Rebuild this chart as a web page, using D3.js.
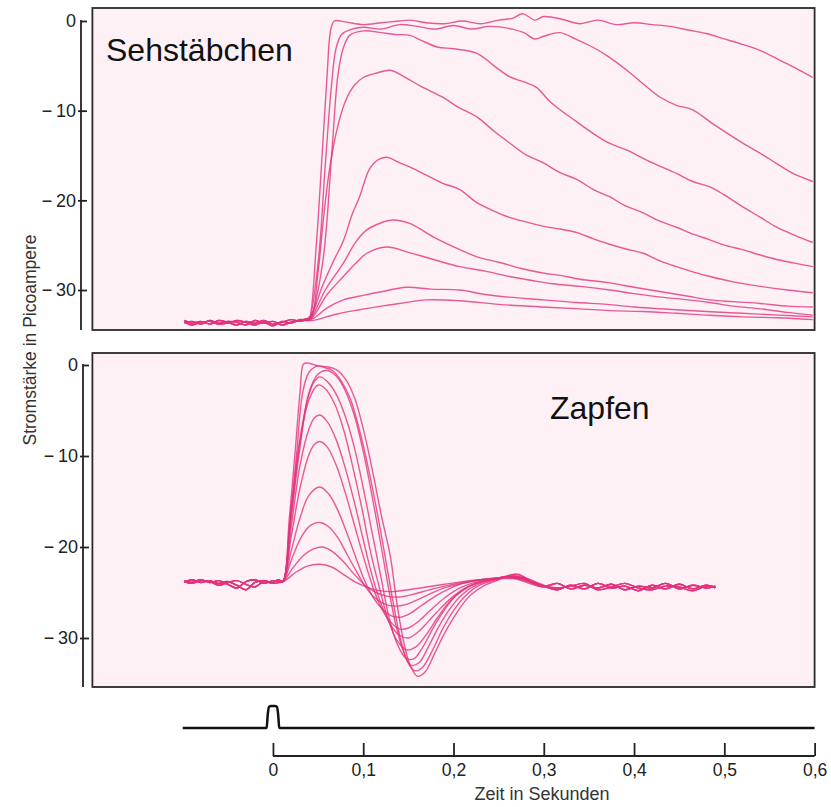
<!DOCTYPE html>
<html>
<head>
<meta charset="utf-8">
<script src="https://cdn.jsdelivr.net/npm/d3@7"></script>
<style>
  body { margin: 0; background: #fff; }
  svg { font-family: "Liberation Sans", Arial, Helvetica, sans-serif; }
</style>
</head>
<body>
<svg id="chart" width="831" height="807"></svg>
<script>
// ---- data: time in s, current in pA ----
const xTicks = [0, 0.1, 0.2, 0.3, 0.4, 0.5, 0.6];
const yTicks = [0, -10, -20, -30];

// baseline noise before the flash (rods)
const rodBaseT = [-0.098, -0.09, -0.08, -0.07, -0.06, -0.05, -0.04, -0.03, -0.02, -0.01, 0, 0.01, 0.02, 0.03, 0.038];
const rodBaseA = [-33.4, -33.7, -33.5, -33.8, -33.4, -33.6, -33.9, -33.5, -33.7, -33.4, -33.8, -33.6, -33.3, -33.5, -33.3];
const rodBaseB = [-33.7, -33.5, -33.8, -33.4, -33.7, -33.5, -33.6, -33.9, -33.4, -33.7, -33.5, -33.9, -33.6, -33.4, -33.2];
const rodBaseC = [-33.5, -33.9, -33.6, -33.5, -33.8, -33.7, -33.4, -33.6, -33.9, -33.6, -34.0, -33.5, -33.7, -33.3, -33.4];

// rod responses, brightest first
const rod1 = [[0.040,-33.3],[0.048,-25],[0.055,-14],[0.060,-6],[0.064,-1],[0.068,0],[0.08,-0.1],[0.10,-0.4],[0.12,-0.2],[0.14,0],[0.152,0.1],[0.17,-0.2],[0.19,-0.3],[0.21,0],[0.23,-0.3],[0.25,0.1],[0.265,0.3],[0.277,0.8],[0.29,0.1],[0.30,0.5],[0.32,0.2],[0.34,-0.3],[0.36,0.1],[0.38,-0.4],[0.40,-0.2],[0.42,-0.4],[0.44,-0.6],[0.46,-1.0],[0.48,-1.4],[0.50,-2.0],[0.52,-2.6],[0.54,-3.3],[0.56,-4.3],[0.58,-5.3],[0.598,-6.3]];
const rod2 = [[0.040,-33.4],[0.05,-27],[0.058,-16],[0.065,-7],[0.07,-3],[0.076,-1.5],[0.085,-1.0],[0.10,-0.7],[0.12,-0.9],[0.14,-0.4],[0.16,-0.6],[0.18,-0.9],[0.20,-0.5],[0.22,-0.9],[0.24,-0.6],[0.265,-0.9],[0.278,-1.3],[0.29,-2.0],[0.30,-1.7],[0.318,-1.3],[0.335,-2.0],[0.354,-2.9],[0.372,-4.0],[0.392,-5.5],[0.41,-7.0],[0.429,-8.5],[0.447,-9.4],[0.465,-9.9],[0.485,-11.3],[0.503,-12.5],[0.52,-13.6],[0.539,-14.7],[0.558,-15.9],[0.576,-17.0],[0.598,-17.9]];
const rod3 = [[0.042,-33],[0.055,-27],[0.065,-15],[0.072,-6],[0.078,-3],[0.085,-1.6],[0.10,-1.1],[0.12,-1.3],[0.135,-1.5],[0.152,-1.6],[0.165,-2.2],[0.182,-2.9],[0.20,-3.1],[0.226,-3.6],[0.245,-5.0],[0.262,-6.2],[0.278,-6.8],[0.292,-7.4],[0.305,-8.8],[0.318,-9.9],[0.336,-11.2],[0.354,-12.5],[0.372,-13.6],[0.392,-14.4],[0.42,-15.8],[0.447,-17.0],[0.465,-17.9],[0.484,-18.5],[0.50,-19.4],[0.52,-20.7],[0.54,-21.9],[0.558,-23.0],[0.578,-23.9],[0.598,-24.7]];
const rod4 = [[0.042,-33.3],[0.05,-28],[0.056,-22],[0.062,-17],[0.07,-12.5],[0.08,-9],[0.09,-7.2],[0.10,-6.3],[0.115,-5.8],[0.13,-5.5],[0.145,-6.2],[0.164,-7.3],[0.188,-8.5],[0.205,-9.6],[0.226,-10.7],[0.245,-12.3],[0.262,-13.6],[0.28,-14.9],[0.299,-15.8],[0.318,-16.9],[0.337,-17.7],[0.355,-18.8],[0.373,-19.6],[0.39,-20.6],[0.41,-21.4],[0.428,-22.3],[0.447,-23.0],[0.466,-23.8],[0.484,-24.4],[0.50,-25.0],[0.52,-25.5],[0.54,-26.1],[0.558,-26.6],[0.578,-27.0],[0.598,-27.4]];
const rod5 = [[0.044,-32.5],[0.055,-29.5],[0.066,-27],[0.078,-24.5],[0.088,-21.5],[0.096,-19.6],[0.107,-16.5],[0.116,-15.5],[0.126,-15.2],[0.14,-15.8],[0.152,-16.3],[0.17,-17.2],[0.188,-18.1],[0.207,-18.8],[0.225,-20.2],[0.245,-21.2],[0.262,-21.9],[0.28,-22.4],[0.30,-22.9],[0.318,-23.2],[0.337,-23.6],[0.355,-24.3],[0.373,-24.9],[0.39,-25.4],[0.41,-25.9],[0.43,-26.8],[0.447,-27.4],[0.466,-28.0],[0.484,-28.5],[0.51,-29.1],[0.54,-29.6],[0.57,-30.0],[0.598,-30.3]];
const rod6 = [[0.044,-32.8],[0.058,-30],[0.078,-27],[0.092,-24.6],[0.104,-23.3],[0.12,-22.5],[0.133,-22.2],[0.152,-22.6],[0.178,-24.1],[0.207,-25.5],[0.226,-26.3],[0.25,-26.9],[0.275,-27.6],[0.299,-28.1],[0.32,-28.4],[0.34,-28.8],[0.373,-29.2],[0.40,-29.7],[0.43,-30.2],[0.46,-30.7],[0.484,-31.1],[0.51,-31.3],[0.54,-31.5],[0.57,-31.8],[0.598,-31.9]];
const rod7 = [[0.044,-33],[0.06,-30.5],[0.078,-28.5],[0.092,-27],[0.104,-25.9],[0.126,-25.2],[0.15,-25.8],[0.178,-26.6],[0.207,-27.4],[0.235,-27.9],[0.262,-28.5],[0.29,-29.0],[0.31,-29.3],[0.34,-29.6],[0.373,-30.0],[0.40,-30.4],[0.43,-30.8],[0.46,-31.1],[0.484,-31.4],[0.51,-31.8],[0.54,-32.1],[0.57,-32.5],[0.598,-32.8]];
const rod8 = [[0.044,-33.2],[0.06,-32],[0.078,-31.1],[0.10,-30.6],[0.12,-30.2],[0.148,-29.7],[0.175,-29.9],[0.207,-30.0],[0.235,-30.5],[0.262,-30.8],[0.30,-31.1],[0.337,-31.4],[0.37,-31.6],[0.40,-31.9],[0.447,-32.2],[0.48,-32.4],[0.52,-32.6],[0.56,-32.8],[0.598,-33.0]];
const rod9 = [[0.044,-33.4],[0.07,-32.7],[0.096,-32.2],[0.12,-31.8],[0.14,-31.5],[0.17,-31.1],[0.207,-31.2],[0.25,-31.6],[0.299,-31.9],[0.34,-32.1],[0.373,-32.3],[0.41,-32.4],[0.447,-32.6],[0.48,-32.8],[0.52,-33.0],[0.56,-33.1],[0.598,-33.3]];
const rodTraces = [rod1, rod2, rod3, rod4, rod5, rod6, rod7, rod8, rod9];

// cone baseline before the flash and tail after the response
const coneBaseT = [-0.098, -0.09, -0.08, -0.07, -0.06, -0.05, -0.04, -0.03, -0.02, -0.01, 0, 0.006];
const coneBaseA = [-23.7, -23.9, -23.6, -23.9, -23.7, -24.1, -24.5, -23.8, -23.6, -24.0, -23.7, -23.8];
const coneBaseB = [-23.9, -23.6, -23.9, -23.7, -24.0, -23.8, -24.2, -24.7, -23.9, -23.7, -23.9, -23.6];
const coneBaseC = [-23.8, -24.0, -23.7, -23.8, -24.2, -23.9, -23.7, -24.1, -24.4, -23.8, -24.0, -23.9];
const coneTailT = [0.315, 0.33, 0.345, 0.36, 0.375, 0.39, 0.405, 0.42, 0.435, 0.45, 0.465, 0.48, 0.49];
const coneTailA = [-24.0, -24.6, -24.2, -24.5, -24.1, -24.7, -24.3, -24.5, -24.0, -24.6, -24.2, -24.5, -24.3];
const coneTailB = [-24.7, -24.2, -24.6, -24.0, -24.5, -24.3, -24.8, -24.2, -24.6, -24.1, -24.6, -24.2, -24.5];
const coneTailC = [-24.5, -24.3, -24.0, -24.7, -24.4, -24.0, -24.5, -24.7, -24.3, -24.4, -24.8, -24.3, -24.4];

// cone responses, brightest first
const cone1 = [[0.011,-23.8],[0.018,-17],[0.025,-9],[0.03,-3],[0.034,0.1],[0.04,0.2],[0.05,-0.1],[0.06,-0.2],[0.07,-0.5],[0.08,-1.5],[0.09,-3.5],[0.10,-7],[0.11,-11.5],[0.12,-16.5],[0.13,-21],[0.137,-26],[0.145,-30.5],[0.152,-33],[0.16,-34.2],[0.168,-33.8],[0.18,-31.5],[0.19,-29.5],[0.20,-27.8],[0.21,-26.3],[0.22,-25.2],[0.235,-24.2],[0.25,-23.6],[0.262,-23.1],[0.272,-23.0],[0.285,-23.7],[0.30,-24.3]];
const cone2 = [[0.011,-23.8],[0.018,-18],[0.026,-10],[0.033,-3],[0.04,-0.8],[0.05,-0.1],[0.058,-0.3],[0.066,-0.6],[0.076,-1.8],[0.086,-3.8],[0.096,-7.2],[0.106,-11.5],[0.116,-16.5],[0.125,-21.5],[0.133,-26],[0.141,-30],[0.149,-32.6],[0.157,-33.6],[0.165,-33.3],[0.176,-31.5],[0.188,-29],[0.20,-27],[0.212,-25.5],[0.225,-24.4],[0.24,-23.8],[0.255,-23.4],[0.268,-23.0],[0.28,-23.4],[0.30,-24.2]];
const cone3 = [[0.011,-23.8],[0.02,-17],[0.03,-9],[0.04,-3],[0.05,-1.0],[0.06,-0.6],[0.07,-1.2],[0.08,-2.8],[0.09,-5.5],[0.10,-9.5],[0.11,-14.5],[0.12,-20],[0.128,-24.5],[0.136,-28.5],[0.145,-31.6],[0.153,-33],[0.162,-32.7],[0.172,-31],[0.184,-28.7],[0.196,-26.8],[0.21,-25.2],[0.225,-24.2],[0.24,-23.7],[0.258,-23.3],[0.275,-23.5],[0.30,-24.3]];
const cone4 = [[0.011,-23.8],[0.02,-16],[0.03,-8],[0.04,-3.2],[0.046,-1.8],[0.052,-1.3],[0.06,-1.8],[0.07,-3.2],[0.08,-5.6],[0.09,-9],[0.10,-13.5],[0.11,-18.5],[0.12,-23.5],[0.128,-27.5],[0.137,-30.5],[0.147,-32.2],[0.156,-32.3],[0.166,-31],[0.178,-28.8],[0.19,-26.9],[0.204,-25.2],[0.22,-24.2],[0.235,-23.7],[0.25,-23.4],[0.27,-23.3],[0.30,-24.4]];
const cone5 = [[0.011,-23.8],[0.02,-16.5],[0.03,-8.5],[0.04,-3.8],[0.05,-2.2],[0.058,-2.6],[0.068,-4.2],[0.078,-7],[0.088,-11],[0.098,-15.5],[0.108,-20.5],[0.118,-24.5],[0.127,-27.8],[0.137,-30.2],[0.148,-31.3],[0.158,-31.0],[0.17,-29.6],[0.182,-27.8],[0.195,-26.1],[0.21,-24.8],[0.225,-24.0],[0.245,-23.5],[0.265,-23.2],[0.30,-24.3]];
const cone6 = [[0.011,-23.8],[0.02,-18],[0.03,-11],[0.04,-7],[0.046,-5.8],[0.052,-5.5],[0.06,-6.2],[0.07,-8.2],[0.08,-11.3],[0.09,-15],[0.10,-19.2],[0.11,-23.2],[0.12,-26.3],[0.13,-28.5],[0.14,-29.7],[0.15,-30.0],[0.16,-29.4],[0.172,-28.2],[0.185,-26.8],[0.20,-25.4],[0.215,-24.4],[0.232,-23.8],[0.25,-23.5],[0.27,-23.2],[0.30,-24.3]];
const cone7 = [[0.011,-23.8],[0.02,-19],[0.03,-13.5],[0.04,-9.8],[0.046,-8.7],[0.052,-8.4],[0.06,-9.0],[0.07,-11],[0.08,-14],[0.09,-17.5],[0.10,-21],[0.11,-24.2],[0.12,-26.7],[0.13,-28.2],[0.14,-29.0],[0.15,-28.9],[0.162,-28.1],[0.175,-26.9],[0.19,-25.6],[0.205,-24.6],[0.22,-24.0],[0.24,-23.6],[0.26,-23.3],[0.30,-24.4]];
const cone8 = [[0.011,-23.8],[0.02,-20.5],[0.03,-16.8],[0.04,-14.3],[0.052,-13.4],[0.062,-14.2],[0.072,-16],[0.082,-18.5],[0.092,-21.2],[0.102,-23.8],[0.112,-25.7],[0.122,-26.9],[0.132,-27.6],[0.142,-27.7],[0.152,-27.3],[0.165,-26.4],[0.18,-25.4],[0.195,-24.6],[0.21,-24.0],[0.23,-23.6],[0.25,-23.4],[0.27,-23.2],[0.30,-24.3]];
const cone9 = [[0.011,-23.8],[0.022,-21],[0.032,-18.8],[0.042,-17.6],[0.052,-17.3],[0.062,-17.8],[0.072,-19],[0.082,-20.8],[0.092,-22.6],[0.102,-24.3],[0.112,-25.5],[0.122,-26.2],[0.135,-26.5],[0.148,-26.3],[0.16,-25.8],[0.175,-25.1],[0.19,-24.5],[0.21,-24.0],[0.23,-23.6],[0.25,-23.4],[0.27,-23.3],[0.30,-24.3]];
const cone10 = [[0.011,-23.8],[0.022,-22.3],[0.034,-20.9],[0.045,-20.2],[0.055,-20.0],[0.066,-20.5],[0.078,-21.6],[0.09,-23.0],[0.102,-24.2],[0.114,-25.0],[0.126,-25.4],[0.14,-25.5],[0.155,-25.2],[0.17,-24.8],[0.19,-24.3],[0.21,-23.9],[0.23,-23.6],[0.25,-23.4],[0.27,-23.4],[0.30,-24.3]];
const cone11 = [[0.011,-23.8],[0.025,-22.8],[0.038,-22.1],[0.052,-21.9],[0.065,-22.2],[0.078,-23.0],[0.092,-23.9],[0.104,-24.4],[0.118,-24.8],[0.132,-24.9],[0.15,-24.7],[0.17,-24.4],[0.19,-24.1],[0.21,-23.8],[0.23,-23.6],[0.25,-23.5],[0.27,-23.5],[0.30,-24.3]];
const coneTraces = [cone1, cone2, cone3, cone4, cone5, cone6, cone7, cone8, cone9, cone10, cone11];

// light flash marker
const stimT = [-0.1, -0.007, -0.0058, -0.0045, -0.002, 0.002, 0.0045, 0.0058, 0.007, 0.6];
const stimV = [0, 0, 0.6, 0.96, 1, 1, 0.96, 0.6, 0, 0];

// ---- layout ----
const svg = d3.select("#chart");
const traceColor = "#e2327c";
const ink = "#222";

const x = d3.scaleLinear().domain([-0.2, 0.6]).range([92.4, 814.6]);
const yTop = d3.scaleLinear().domain([0, -30]).range([21, 290]);
const yBot = d3.scaleLinear().domain([0, -30]).range([365, 638]);
const yStim = d3.scaleLinear().domain([0, 1]).range([728, 706]);

const tickFmt = d => d === 0 ? "0" : "\u2212\u2009" + Math.abs(d);

function panel(y, top, bottom, axisX, traces, bases, tails) {
  // plot background and frame
  svg.append("rect")
    .attr("x", x(-0.2)).attr("y", top)
    .attr("width", x(0.6) - x(-0.2)).attr("height", bottom - top)
    .attr("fill", "#fdf1f6")
    .attr("stroke", "#2a2a2a").attr("stroke-width", 1.8);

  const line = d3.line()
    .x(d => x(d[0])).y(d => y(d[1]))
    .curve(d3.curveCatmullRom.alpha(0.5));

  traces.forEach((tr, i) => {
    const b = bases[i % bases.length];
    let pts = b.t.map((t, j) => [t, b.v[j]]).concat(tr);
    if (tails) {
      const tl = tails[i % tails.length];
      pts = pts.concat(tl.t.map((t, j) => [t, tl.v[j]]));
    }
    svg.append("path")
      .attr("d", line(pts))
      .attr("fill", "none")
      .attr("stroke", traceColor)
      .attr("stroke-opacity", 0.8)
      .attr("stroke-width", 1.4);
  });

  // y axis
  const g = svg.append("g")
    .attr("transform", `translate(${axisX},0)`)
    .call(d3.axisLeft(y).tickValues(yTicks).tickSize(3).tickPadding(2).tickFormat(tickFmt));
  g.select(".domain").remove();
  g.selectAll(".tick line")
    .attr("x1", d => d === 0 ? 0 : -3).attr("x2", 6)
    .attr("stroke", ink).attr("stroke-width", 1.8);
  g.selectAll(".tick text")
    .attr("fill", ink).style("font-size", "18px");
  g.append("line")
    .attr("x1", 0).attr("x2", 0)
    .attr("y1", y(0) - 0.9).attr("y2", bottom)
    .attr("stroke", ink).attr("stroke-width", 1.8);
}

panel(yTop, 8, 330, 81, rodTraces,
  [{t: rodBaseT, v: rodBaseA}, {t: rodBaseT, v: rodBaseB}, {t: rodBaseT, v: rodBaseC}], null);
panel(yBot, 353, 687, 83, coneTraces,
  [{t: coneBaseT, v: coneBaseA}, {t: coneBaseT, v: coneBaseB}, {t: coneBaseT, v: coneBaseC}],
  [{t: coneTailT, v: coneTailA}, {t: coneTailT, v: coneTailB}, {t: coneTailT, v: coneTailC}]);

// panel labels
svg.append("text").attr("x", 106).attr("y", 61)
  .attr("fill", "#111").style("font-size", "32px").text("Sehstäbchen");
svg.append("text").attr("x", 550).attr("y", 419)
  .attr("fill", "#111").style("font-size", "32px").text("Zapfen");

// y title
svg.append("text")
  .attr("transform", "translate(36,340) rotate(-90)")
  .attr("text-anchor", "middle")
  .attr("fill", "#333").style("font-size", "17.5px")
  .text("Stromstärke in Picoampere");

// stimulus trace
svg.append("path")
  .attr("d", d3.line().x((d, i) => x(d)).y((d, i) => yStim(stimV[i])).curve(d3.curveMonotoneX)(stimT))
  .attr("fill", "none").attr("stroke", "#111").attr("stroke-width", 2.5);

// time axis
const gx = svg.append("g")
  .attr("transform", "translate(0,756)")
  .call(d3.axisBottom(x).tickValues(xTicks).tickSizeInner(-13).tickSizeOuter(0).tickPadding(8)
    .tickFormat(d => d === 0 ? "0" : d.toFixed(1).replace(".", ",")));
gx.select(".domain").remove();
gx.append("line").attr("x1", x(0)).attr("x2", x(0.6)).attr("y1", 0).attr("y2", 0)
  .attr("stroke", ink).attr("stroke-width", 1.8);
gx.selectAll(".tick line").attr("stroke", ink).attr("stroke-width", 1.8);
gx.selectAll(".tick text").attr("fill", ink).style("font-size", "17.5px");

svg.append("text")
  .attr("x", 542).attr("y", 800)
  .attr("text-anchor", "middle")
  .attr("fill", "#333").style("font-size", "18px")
  .text("Zeit in Sekunden");
</script>
</body>
</html>
